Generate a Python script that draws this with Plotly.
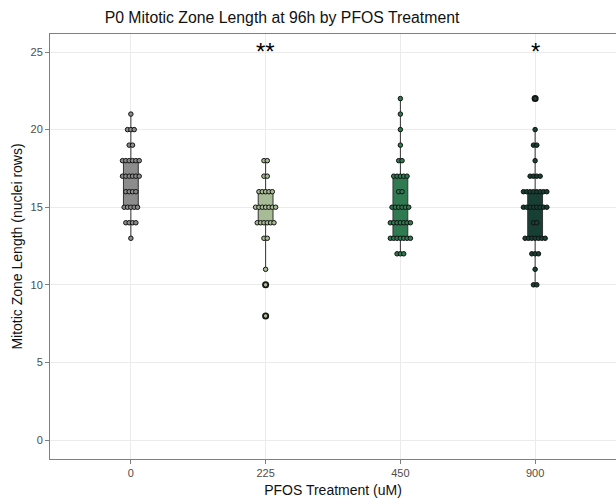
import numpy as np
import plotly.graph_objects as go

# Treatment groups (PFOS, uM)
treatments = ["0", "225", "450", "900"]
box_colors = ["#8c8c8c", "#a7bb96", "#2f7a50", "#183f34"]

# Mitotic zone length per larva (nuclei rows)
mz_0 = [13, 14, 14, 14, 14, 15, 15, 15, 15, 15, 16, 16, 16, 16,
        17, 17, 17, 17, 17, 17, 18, 18, 18, 18, 18, 18, 19, 19,
        20, 20, 20, 21]
mz_225 = [8, 10, 11, 13, 13, 14, 14, 14, 14, 14, 14, 15, 15, 15, 15,
          15, 15, 15, 16, 16, 16, 16, 16, 17, 17, 18, 18]
mz_450 = [12, 12, 12, 13, 13, 13, 13, 13, 13, 13, 14, 14, 14, 14, 14,
          14, 14, 15, 15, 15, 15, 15, 15, 16, 16, 17, 17, 17, 17, 17,
          18, 18, 19, 20, 21, 22]
mz_900 = [10, 10, 11, 12, 12, 12, 13, 13, 13, 13, 13, 13, 13, 14, 14,
          15, 15, 15, 15, 15, 15, 15, 15, 16, 16, 16, 16, 16, 16, 16, 16,
          17, 17, 17, 17, 18, 19, 19, 20, 22]
groups = [mz_0, mz_225, mz_450, mz_900]

# Significance marks vs. control
signif = {1: "**", 3: "*"}
signif_y = 25

fig = go.Figure()

BOX_W = 0.11
DOT_STEP = 0.0248

for i, (vals, col) in enumerate(zip(groups, box_colors)):
    v = np.array(vals, dtype=float)
    q1, med, q3 = np.percentile(v, [25, 50, 75])
    iqr = q3 - q1
    lo_lim, hi_lim = q1 - 1.5 * iqr, q3 + 1.5 * iqr
    inside = v[(v >= lo_lim) & (v <= hi_lim)]
    outl = v[(v < lo_lim) | (v > hi_lim)]

    fig.add_trace(go.Box(
        x=[i], q1=[q1], median=[med], q3=[q3],
        lowerfence=[inside.min()], upperfence=[inside.max()],
        width=BOX_W, whiskerwidth=0, fillcolor=col,
        line=dict(color="#333333", width=1),
        boxpoints=False, hoverinfo="skip", showlegend=False,
    ))

    if len(outl):
        fig.add_trace(go.Scatter(
            x=[i] * len(outl), y=outl, mode="markers",
            marker=dict(size=7, color="#111111"),
            hoverinfo="skip", showlegend=False,
        ))

    # centred dot stacks, one dot per observation
    xs, ys = [], []
    uniq, counts = np.unique(v, return_counts=True)
    for val, n in zip(uniq, counts):
        for k in range(n):
            xs.append(i + (k - (n - 1) / 2) * DOT_STEP)
            ys.append(val)
    fig.add_trace(go.Scatter(
        x=xs, y=ys, mode="markers",
        marker=dict(size=4.5, color=col, line=dict(color="#111111", width=1)),
        hoverinfo="skip", showlegend=False,
    ))

for xi, txt in signif.items():
    fig.add_annotation(x=xi, y=signif_y, text=txt, showarrow=False,
                       xref="x", yref="y", yanchor="middle", yshift=1,
                       font=dict(size=24, color="#000000"))

FONT = "Liberation Sans, Arial, sans-serif"

fig.update_layout(
    width=616, height=504,
    margin=dict(l=50, r=0, t=34, b=45),
    plot_bgcolor="white", paper_bgcolor="white",
    font=dict(family=FONT, color="#222222"),
    title=dict(text="P0 Mitotic Zone Length at 96h by PFOS Treatment",
               x=282 / 616, xanchor="center", y=1 - 17 / 504, yanchor="middle",
               font=dict(size=15.8, color="#111111")),
)

fig.update_xaxes(
    range=[-0.6, 3.6], tickvals=list(range(len(treatments))), ticktext=treatments,
    showgrid=True, gridcolor="#ebebeb", gridwidth=1, zeroline=False,
    showline=True, linecolor="#7f7f7f", linewidth=1, mirror=True,
    ticks="outside", ticklen=4, tickcolor="#7f7f7f",
    tickfont=dict(size=11, color="#4d4d4d"),
    title=dict(text="PFOS Treatment (uM)", font=dict(size=14, color="#111111"), standoff=6),
)
fig.update_yaxes(
    range=[-1.22, 26.16], tickvals=[0, 5, 10, 15, 20, 25],
    showgrid=True, gridcolor="#ebebeb", gridwidth=1, zeroline=False,
    showline=True, linecolor="#7f7f7f", linewidth=1, mirror=True,
    ticks="outside", ticklen=4, tickcolor="#7f7f7f",
    tickfont=dict(size=11, color="#4d4d4d"),
    title=dict(text="Mitotic Zone Length (nuclei rows)", font=dict(size=14, color="#111111"), standoff=4),
)

fig.write_html("out.html")
